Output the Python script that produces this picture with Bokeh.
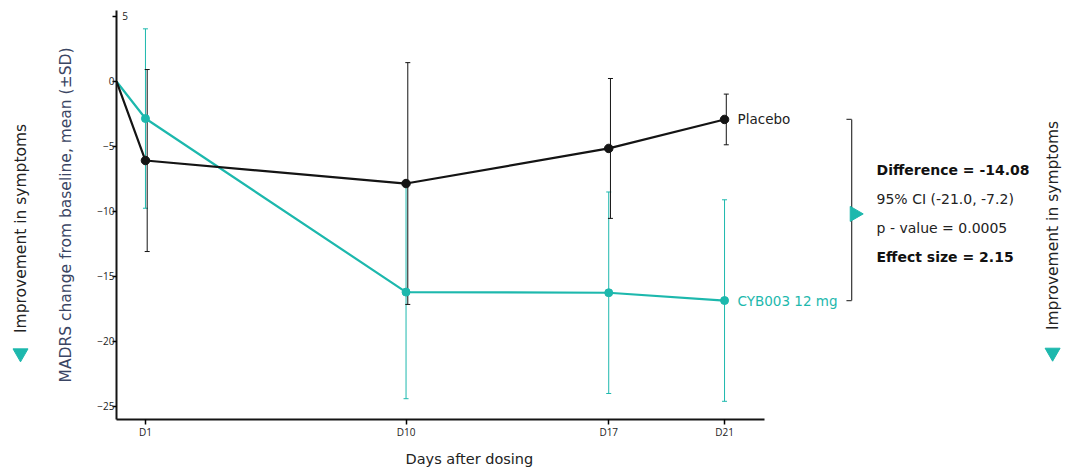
import math
from bokeh.plotting import figure
from bokeh.layouts import row
from bokeh.models import Range1d, FixedTicker, ColumnDataSource, Whisker, TeeHead, Title
from bokeh.core.properties import value
from bokeh.embed import file_html
from bokeh.resources import INLINE

# ---- data ----
days = [0, 1, 10, 17, 21]
day_ticks = [1, 10, 17, 21]
day_tick_labels = ["D1", "D10", "D17", "D21"]
y_ticks = [-25, -20, -15, -10, -5, 0, 5]
placebo_mean = [0, -6.08, -7.85, -5.15, -2.92]
placebo_sd = [0, 7.0, 9.3, 5.38, 1.95]
cyb_mean = [0, -2.85, -16.2, -16.25, -16.85]
cyb_sd = [0, 6.9, 8.2, 7.75, 7.75]
series_names = ["Placebo", "CYB003 12 mg"]
stats_bold_1 = "Difference = -14.08"
stats_line_2 = "95% CI (-21.0, -7.2)"
stats_line_3 = "p - value = 0.0005"
stats_bold_4 = "Effect size = 2.15"
side_text = "Improvement in symptoms"
y_title = "MADRS change from baseline, mean (\u00b1SD)"
x_title = "Days after dosing"

TEAL = "#1db8ad"
BLACK = "#141414"
FONT = "DejaVu Sans"
TICKFONT = "Open Sans"

LEFT_W = 44
TOTAL_W = 1066
H = 469

y_range = Range1d(-26.0, 5.46)

p = figure(width=TOTAL_W - LEFT_W, height=H, output_backend="svg", toolbar_location=None,
           x_range=Range1d(0, 32.81), y_range=y_range,
           min_border_left=116 - LEFT_W, min_border_right=0, min_border_top=10,
           min_border_bottom=50)
p.outline_line_color = None
p.grid.visible = False

# axes
ya = p.yaxis[0]
ya.ticker = FixedTicker(ticks=y_ticks)
ya.major_label_overrides = {5: ""}
ya.axis_line_width = 2
ya.axis_line_color = BLACK
ya.major_tick_out = 4
ya.major_tick_in = 0
ya.major_tick_line_width = 1.5
ya.minor_tick_line_color = None
ya.major_label_standoff = -2
ya.major_label_text_font = TICKFONT
ya.major_label_text_font_size = "10px"
ya.major_label_text_color = "#222222"
ya.axis_label = y_title
ya.axis_label_text_font = FONT
ya.axis_label_text_font_style = "normal"
ya.axis_label_text_font_size = "15.5px"
ya.axis_label_text_color = "#3a4563"
ya.axis_label_standoff = 19

xa = p.xaxis[0]
xa.bounds = (-0.15, 22.38)
xa.ticker = FixedTicker(ticks=day_ticks)
xa.major_label_overrides = {d: l for d, l in zip(day_ticks, day_tick_labels)}
xa.axis_line_width = 2
xa.axis_line_color = BLACK
xa.major_tick_out = 5
xa.major_tick_in = 0
xa.major_tick_line_width = 1.5
xa.minor_tick_line_color = None
xa.major_label_standoff = 0
xa.major_label_text_font = TICKFONT
xa.major_label_text_font_size = "10px"
xa.major_label_text_color = "#222222"

# x-axis title, placed under the axis (left aligned with an offset)
xt = Title(text=x_title, align="left", offset=289, text_font=FONT, text_font_style="normal",
           text_font_size="14.5px", text_color="#222222", standoff=5,
           padding=dict(left=0, right=0, top=5, bottom=0))
p.add_layout(xt, "below")

# label for the "5" tick placed right of axis
p.text(x=[0.2], y=[y_ticks[-1]], text=[str(y_ticks[-1])], text_font=value(TICKFONT),
       text_font_size="10px", text_color="#222222", text_align="left", text_baseline="middle")

def err_source(mean, sd, dodge):
    return ColumnDataSource(dict(
        base=[d + dodge for d in days[1:]],
        upper=[m + s for m, s in zip(mean[1:], sd[1:])],
        lower=[m - s for m, s in zip(mean[1:], sd[1:])],
    ))

for mean, sd, col, dodge in [(cyb_mean, cyb_sd, TEAL, 0.0), (placebo_mean, placebo_sd, BLACK, 0.06)]:
    src = err_source(mean, sd, dodge)
    w = Whisker(source=src, base="base", upper="upper", lower="lower",
                line_color=col, line_width=1,
                upper_head=TeeHead(size=5, line_color=col, line_width=1),
                lower_head=TeeHead(size=5, line_color=col, line_width=1))
    p.add_layout(w)

p.line(days, cyb_mean, line_color=TEAL, line_width=2.2)
p.scatter(days[1:], cyb_mean[1:], size=8, color=TEAL)
p.line(days, placebo_mean, line_color=BLACK, line_width=2.2)
p.scatter(days[1:], placebo_mean[1:], size=8.5, color=BLACK)

# series labels
lab_x = days[-1] + 0.45
p.text(x=[lab_x], y=[placebo_mean[-1]], text=[series_names[0]], text_font=value(FONT),
       text_font_size="13.5px", text_color="#222222", text_baseline="middle")
p.text(x=[lab_x], y=[cyb_mean[-1]], text=[series_names[1]], text_font=value(FONT),
       text_font_size="13.5px", text_color=TEAL, text_baseline="middle")

# bracket
bx = 25.39
top = placebo_mean[-1]
bot = cyb_mean[-1]
p.segment(x0=[bx, bx - 0.18, bx - 0.18], y0=[top, top, bot],
          x1=[bx, bx, bx], y1=[bot, top, bot], line_color="#444444", line_width=1.3)
mid = (top + bot) / 2 - 0.3
p.scatter([bx + 0.1], [mid], marker="triangle", angle=-math.pi / 2, size=15, color=TEAL)

tx = 26.25
p.text(x=[tx, tx], y=[mid + 3.35, mid - 3.35], text=[stats_bold_1, stats_bold_4],
       text_font=value(FONT), text_font_size="14px", text_font_style="bold",
       text_color="#111111", text_baseline="middle")
p.text(x=[tx, tx], y=[mid + 1.12, mid - 1.12], text=[stats_line_2, stats_line_3],
       text_font=value(FONT), text_font_size="14px", text_color="#222222", text_baseline="middle")

# right side vertical text + down triangle
p.text(x=[32.33], y=[-11.08], text=[side_text], angle=math.pi / 2, text_font=value(FONT),
       text_font_size="15.5px", text_color="#222222", text_align="center", text_baseline="middle")
p.scatter([32.33], [-20.85], marker="inverted_triangle", size=15, color=TEAL)

# left strip with vertical text + down triangle
q = figure(width=LEFT_W, height=H, output_backend="svg", toolbar_location=None,
           x_range=Range1d(0, LEFT_W), y_range=y_range,
           min_border_left=0, min_border_right=0, min_border_top=10, min_border_bottom=50)
q.axis.visible = False
q.grid.visible = False
q.outline_line_color = None
q.text(x=[20], y=[-11.3], text=[side_text], angle=math.pi / 2, text_font=value(FONT),
       text_font_size="15.5px", text_color="#222222", text_align="center", text_baseline="middle")
q.scatter([20], [-20.9], marker="inverted_triangle", size=15, color=TEAL)

layout = row(q, p)
open("out.html", "w").write(file_html(layout, INLINE))
